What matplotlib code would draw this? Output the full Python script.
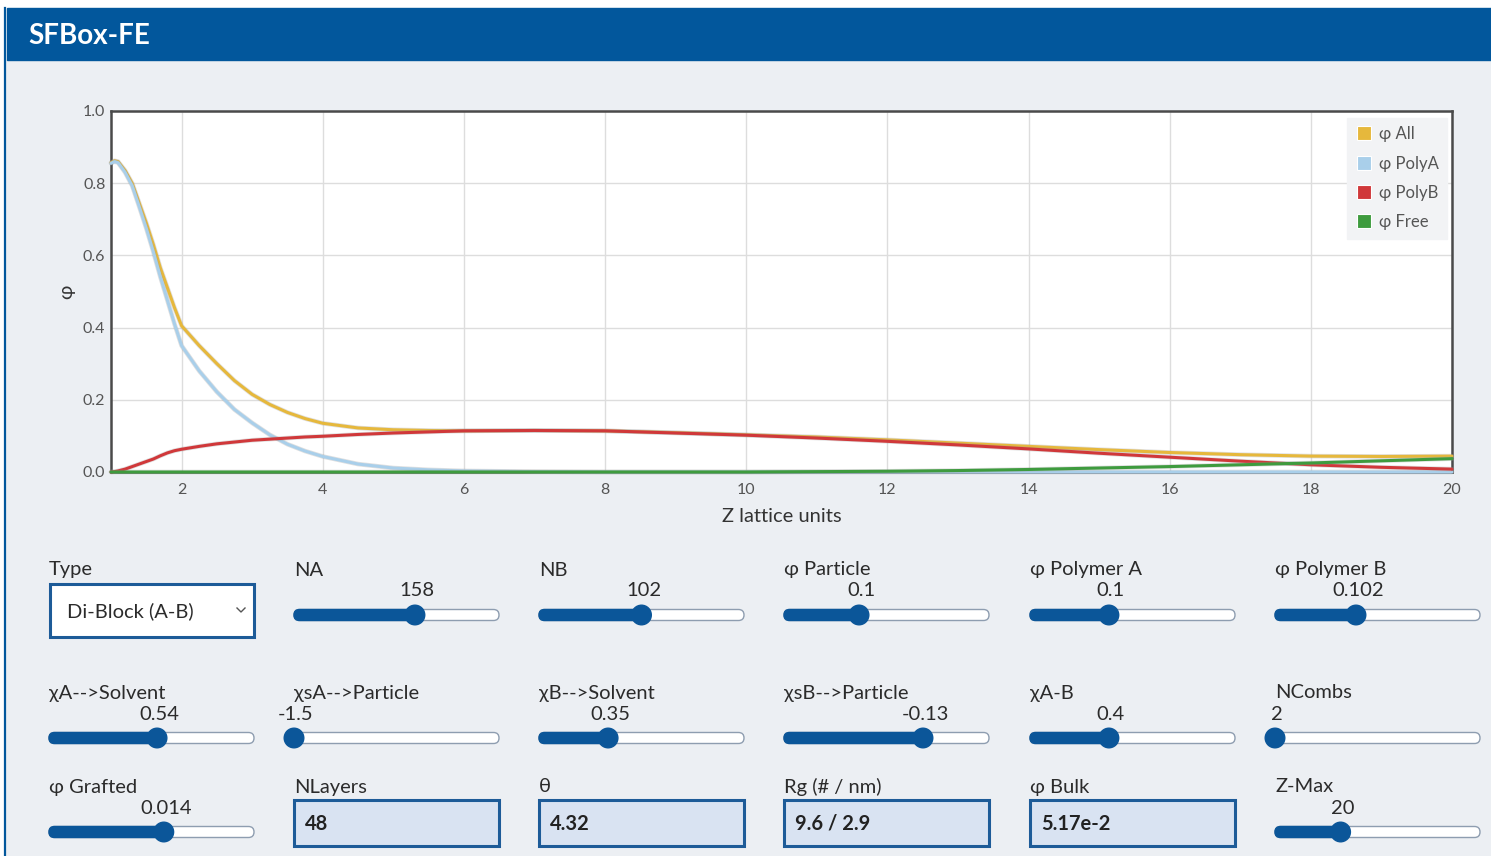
import matplotlib
matplotlib.use("Agg")
import matplotlib.pyplot as plt
import matplotlib.patheffects as pe
from matplotlib.patches import Rectangle, FancyBboxPatch, Circle
from matplotlib.lines import Line2D

plt.rcParams['font.family'] = ['Lato', 'DejaVu Sans']

# concentration profiles vs. distance (lattice units)
z = [1.0, 1.05, 1.1, 1.2, 1.3, 1.4, 1.5, 1.6, 1.7, 1.8, 1.9, 2.0, 2.25, 2.5,
     2.75, 3.0, 3.25, 3.5, 3.75, 4.0, 4.5, 5.0, 5.5, 6, 7, 8, 9, 10, 11, 12,
     13, 14, 15, 16, 17, 18, 19, 20]
phi_all = [0.857, 0.862, 0.86, 0.835, 0.80, 0.745, 0.69, 0.63, 0.565, 0.51,
           0.455, 0.405, 0.35, 0.30, 0.253, 0.215, 0.187, 0.165, 0.148,
           0.135, 0.122, 0.117, 0.115, 0.114, 0.115, 0.114, 0.109, 0.103,
           0.097, 0.089, 0.080, 0.071, 0.062, 0.054, 0.048, 0.044, 0.043,
           0.044]
phi_polya = [0.855, 0.86, 0.857, 0.83, 0.793, 0.735, 0.675, 0.61, 0.54,
             0.475, 0.41, 0.35, 0.28, 0.222, 0.173, 0.136, 0.103, 0.077,
             0.058, 0.043, 0.022, 0.011, 0.006, 0.003, 0.001, 0.0, 0.0, 0.0,
             0.0, 0.0, 0.0, 0.0, 0.0, 0.0, 0.0, 0.0, 0.0, 0.0]
phi_polyb = [0.0, 0.001, 0.003, 0.008, 0.015, 0.022, 0.029, 0.036, 0.045,
             0.053, 0.059, 0.063, 0.071, 0.078, 0.083, 0.088, 0.091, 0.094,
             0.097, 0.099, 0.104, 0.108, 0.111, 0.114, 0.115, 0.114, 0.108,
             0.102, 0.094, 0.085, 0.075, 0.064, 0.052, 0.041, 0.030, 0.020,
             0.013, 0.008]
phi_free = [0.0] * 28 + [0.001, 0.002, 0.004, 0.007, 0.011, 0.015, 0.020,
                         0.025, 0.031, 0.037]

series_names = ["φ All", "φ PolyA", "φ PolyB", "φ Free"]
series_colors = ["#E6B83C", "#A9CFEA", "#D0383A", "#3E9B3E"]

# control panel contents, one list per row
row1_labels = ["Type", "NA", "NB", "φ Particle", "φ Polymer A", "φ Polymer B"]
row1_values = ["Di-Block (A-B)", "158", "102", "0.1", "0.1", "0.102"]
row1_frac = [None, 0.59, 0.50, 0.366, 0.385, 0.395]

row2_labels = ["χA-->Solvent", "χsA-->Particle", "χB-->Solvent",
               "χsB-->Particle", "χA-B", "NCombs"]
row2_values = ["0.54", "-1.5", "0.35", "-0.13", "0.4", "2"]
row2_frac = [0.527, 0.0, 0.337, 0.678, 0.385, 0.0]

row3_labels = ["φ Grafted", "NLayers", "θ", "Rg (# / nm)", "φ Bulk", "Z-Max"]
row3_values = ["0.014", "48", "4.32", "9.6 / 2.9", "5.17e-2", "20"]
row3_frac = [0.56, None, None, None, None, 0.32]

BLUE = "#02579C"
W, H = 1491, 856

fig = plt.figure(figsize=(W / 100, H / 100), dpi=100)
fig.patch.set_facecolor("white")

# full-figure layer in pixel units for the page chrome
bg = fig.add_axes([0, 0, 1, 1])
bg.set_xlim(0, W)
bg.set_ylim(H, 0)
bg.axis("off")

bg.add_patch(Rectangle((6, 60), W - 6, H - 60, color="#ECEFF3", zorder=0))
bg.add_patch(Rectangle((7, 8), W - 7, 52, color=BLUE, zorder=1))
bg.plot([5, 5], [8, H], color=BLUE, lw=1.6, zorder=1)
bg.text(28, 36, "SFBox-FE", color="white", fontsize=20, fontweight="bold",
        va="center", ha="left")

col_x = [49, 294, 539, 784, 1030, 1275]
col_w = 205
LABEL_FS = 14.5
TXT = "#2b2b2b"


def slider(x0, yc, frac, value):
    tx = x0 + frac * col_w
    bg.add_patch(FancyBboxPatch((x0, yc - 5.5), col_w, 11,
                                boxstyle="round,pad=0,rounding_size=5.5",
                                fc="white", ec="#8E9DB0", lw=1.0, zorder=2))
    if frac > 0:
        bg.add_patch(FancyBboxPatch((x0, yc - 5.5), tx - x0, 11,
                                    boxstyle="round,pad=0,rounding_size=5.5",
                                    fc="#0B5699", ec="#0B5699", lw=1.0,
                                    zorder=3))
    bg.add_patch(Circle((tx, yc), 9.8, color="#0B5699", zorder=4))
    bg.text(tx + 2, yc - 24, value, fontsize=LABEL_FS, color=TXT,
            ha="center", va="center")


def textbox(x0, top, value):
    bg.add_patch(Rectangle((x0, top), col_w, 46, fc="#D9E3F2", ec="#1D5B98",
                           lw=2.2, zorder=2))
    bg.text(x0 + 11, top + 24, value, fontsize=LABEL_FS, fontweight="bold",
            color="#222222", ha="left", va="center", zorder=3)


rows = [(row1_labels, row1_values, row1_frac, 570),
        (row2_labels, row2_values, row2_frac, 693),
        (row3_labels, row3_values, row3_frac, 787)]

for labels, values, fracs, ly in rows:
    for x0, lab, val, fr in zip(col_x, labels, values, fracs):
        bg.text(x0, ly, lab, fontsize=LABEL_FS, color=TXT, ha="left",
                va="center")
        if fr is not None:
            slider(x0, ly + 45, fr, val)
        elif lab == "Type":
            bg.add_patch(Rectangle((x0 + 1, 584), col_w - 1, 53, fc="white",
                                   ec="#1D5B98", lw=2.2, zorder=2))
            bg.text(x0 + 18, 611, val, fontsize=LABEL_FS, color=TXT,
                    ha="left", va="center", zorder=3)
            bg.plot([x0 + 188, x0 + 192, x0 + 196], [608, 612, 608],
                    color="#555555", lw=1.0, zorder=3)
        else:
            textbox(x0, 800, val)

# profile chart
ax = fig.add_axes([111 / W, 1 - 472 / H, 1341 / W, 361 / H])
ax.set_facecolor("white")
halo = [pe.Stroke(linewidth=3.3, foreground="#9a9a9a", alpha=0.3),
        pe.Normal()]
for ys, name, c in zip([phi_all, phi_polya, phi_polyb, phi_free],
                       series_names, series_colors):
    ax.plot(z, ys, color=c, lw=2.2, label=name, path_effects=halo,
            solid_capstyle="round", clip_on=False, zorder=3)

ax.set_xlim(1, 20)
ax.set_ylim(0, 1)
ax.set_xticks(range(2, 21, 2))
ax.set_yticks([0, 0.2, 0.4, 0.6, 0.8, 1.0])
ax.set_yticklabels(["0.0", "0.2", "0.4", "0.6", "0.8", "1.0"])
ax.tick_params(length=0, labelsize=11.5, labelcolor="#555555")
ax.tick_params(axis="x", pad=8)
ax.tick_params(axis="y", pad=4)
ax.grid(True, color="#DDDDDD", lw=1.0)
ax.set_axisbelow(True)
for sp in ax.spines.values():
    sp.set_color("#4a4a4a")
    sp.set_linewidth(1.8)

ax.set_xlabel("Z lattice units", fontsize=14.5, color="#333333")
ax.xaxis.set_label_coords(0.5, -(508 - 472) / 361, transform=ax.transAxes)
ax.set_ylabel("φ", fontsize=14, color="#333333")
ax.yaxis.set_label_coords(-(111 - 75) / 1341, 0.5)

handles = [Line2D([], [], ls="none", marker="s", markersize=10, mfc=c,
                  mec="white", mew=0.8) for c in series_colors]
leg = ax.legend(handles, series_names, loc="upper right",
                bbox_to_anchor=(1 - 5 / 1341, 1 - 7 / 361), fontsize=12,
                frameon=True, fancybox=False, framealpha=1.0,
                facecolor="#F2F3F5", edgecolor="#F2F3F5", borderaxespad=0,
                handlelength=1.0, handletextpad=0.4, labelspacing=0.8,
                borderpad=0.5)
leg.set_zorder(5)
for t in leg.get_texts():
    t.set_color("#555555")

fig.savefig("out.png", dpi=100)
